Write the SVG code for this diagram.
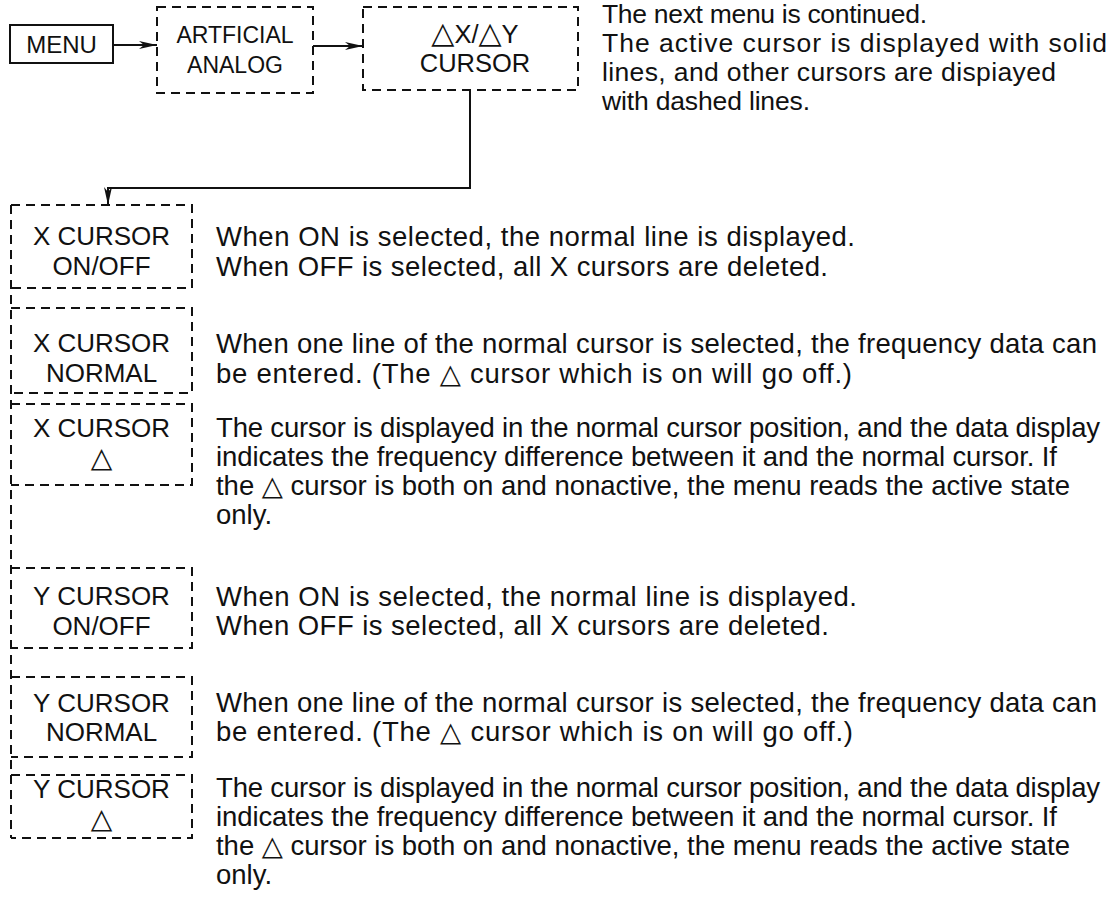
<svg xmlns="http://www.w3.org/2000/svg" width="1113" height="904" viewBox="0 0 1113 904">
<style>
text{font-family:"Liberation Sans",Arial,"DejaVu Sans",sans-serif;fill:#111}
.n{font-size:23px;text-anchor:middle}
.c{font-size:25.5px;text-anchor:middle}
.b{font-size:26px;text-anchor:middle}
.tri{font-size:28px}
.t{font-size:27.5px}
.tn{font-size:26.5px}
.dash{fill:none;stroke:#111;stroke-width:2;stroke-dasharray:9 6}
.solid{fill:none;stroke:#111;stroke-width:2}
.con{fill:none;stroke:#111;stroke-width:2}
</style>
<defs>
<marker id="ah" markerUnits="userSpaceOnUse" markerWidth="20" markerHeight="10" refX="18" refY="4" orient="auto">
<path d="M0,0 L18,4 L0,8 L5,4 Z" fill="#111"/>
</marker>
</defs>

<g id="connectors">
<line class="con" x1="113" y1="45" x2="157" y2="45" marker-end="url(#ah)"/>
<line class="con" x1="313" y1="46" x2="363" y2="46" marker-end="url(#ah)"/>
<path class="con" d="M470,90 V188 H108 V205" marker-end="url(#ah)"/>
<path class="dash" d="M11,205 V838"/>
</g>

<g id="menu">
<rect class="solid" x="10" y="25" width="103" height="38"/>
<text x="61.5" y="53" style="font-size:24px;text-anchor:middle">MENU</text>
</g>

<g id="artficial-analog">
<rect class="dash" x="157" y="7" width="156" height="86"/>
<text class="n" x="235" y="43">ARTFICIAL</text>
<text class="n" x="235" y="73">ANALOG</text>
</g>

<g id="dxdy-cursor">
<rect class="dash" x="363" y="7" width="215" height="83"/>
<text class="c" x="475" y="43"><tspan style="font-size:30px">△</tspan>X/<tspan style="font-size:30px">△</tspan>Y</text>
<text class="c" x="475" y="72">CURSOR</text>
</g>

<g id="note-top">
<text class="tn" x="602" y="23" textLength="325" lengthAdjust="spacing">The next menu is continued.</text>
<text class="tn" x="602" y="52" textLength="505" lengthAdjust="spacing">The active cursor is displayed with solid</text>
<text class="tn" x="602" y="81" textLength="454" lengthAdjust="spacing">lines, and other cursors are dispiayed</text>
<text class="tn" x="602" y="110" textLength="208" lengthAdjust="spacing">with dashed lines.</text>
</g>

<g id="x-cursor-onoff">
<path class="dash" d="M11,205 H192 V288 H11"/>
<text class="b" x="101.5" y="245">X CURSOR</text>
<text class="b" x="101.5" y="275">ON/OFF</text>
<text class="t" x="216" y="246" textLength="639" lengthAdjust="spacing">When ON is selected, the normal line is displayed.</text>
<text class="t" x="216" y="276" textLength="612" lengthAdjust="spacing">When OFF is selected, all X cursors are deleted.</text>
</g>

<g id="x-cursor-normal">
<path class="dash" d="M11,308 H192 V393 H11"/>
<text class="b" x="101.5" y="352">X CURSOR</text>
<text class="b" x="101.5" y="382">NORMAL</text>
<text class="t" x="216" y="353" textLength="881" lengthAdjust="spacing">When one line of the normal cursor is selected, the frequency data can</text>
<text class="t" x="216" y="383" textLength="636" lengthAdjust="spacing">be entered. (The △ cursor which is on will go off.)</text>
</g>

<g id="x-cursor-delta">
<path class="dash" d="M11,404 H192 V485 H11"/>
<text class="b" x="101.5" y="437">X CURSOR</text>
<text class="b tri" x="101.5" y="467">△</text>
<text class="t" x="216" y="437" textLength="884" lengthAdjust="spacing">The cursor is displayed in the normal cursor position, and the data display</text>
<text class="t" x="216" y="466" textLength="841" lengthAdjust="spacing">indicates the frequency difference between it and the normal cursor.  If</text>
<text class="t" x="216" y="495" textLength="854" lengthAdjust="spacing">the △ cursor is both on and nonactive, the menu reads the active state</text>
<text class="t" x="216" y="524">only.</text>
</g>

<g id="y-cursor-onoff">
<path class="dash" d="M11,568 H192 V648 H11"/>
<text class="b" x="101.5" y="605">Y CURSOR</text>
<text class="b" x="101.5" y="635">ON/OFF</text>
<text class="t" x="216" y="606" textLength="641" lengthAdjust="spacing">When ON is selected, the normal line is displayed.</text>
<text class="t" x="216" y="635" textLength="613" lengthAdjust="spacing">When OFF is selected, all X cursors are deleted.</text>
</g>

<g id="y-cursor-normal">
<path class="dash" d="M11,677 H192 V757 H11"/>
<text class="b" x="101.5" y="712">Y CURSOR</text>
<text class="b" x="101.5" y="741">NORMAL</text>
<text class="t" x="216" y="712" textLength="881" lengthAdjust="spacing">When one line of the normal cursor is selected, the frequency data can</text>
<text class="t" x="216" y="741" textLength="637" lengthAdjust="spacing">be entered. (The △ cursor which is on will go off.)</text>
</g>

<g id="y-cursor-delta">
<path class="dash" d="M11,775 H192 V838 H11"/>
<text class="b" x="101.5" y="798">Y CURSOR</text>
<text class="b tri" x="101.5" y="828">△</text>
<text class="t" x="216" y="797" textLength="884" lengthAdjust="spacing">The cursor is displayed in the normal cursor position, and the data display</text>
<text class="t" x="216" y="826" textLength="841" lengthAdjust="spacing">indicates the frequency difference between it and the normal cursor.  If</text>
<text class="t" x="216" y="855" textLength="854" lengthAdjust="spacing">the △ cursor is both on and nonactive, the menu reads the active state</text>
<text class="t" x="216" y="884">only.</text>
</g>
</svg>
